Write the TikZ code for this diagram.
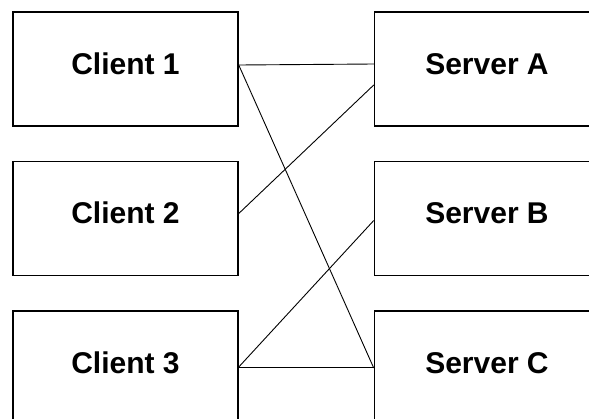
\documentclass[tikz,border=0pt]{standalone}
\usepackage{fontspec}
\setmainfont{Liberation Sans}
\usetikzlibrary{positioning}
\begin{document}
\begin{tikzpicture}[
    x=1pt, y=-1pt,
    node distance=34pt and 135pt,
    every node/.style={font=\fontsize{30}{32}\selectfont\bfseries},
    box/.style={draw, line width=1.5pt, minimum width=225pt, minimum height=114pt,
        inner sep=0pt, text height=20pt, text depth=9.5pt},
    link/.style={draw, line width=0.9pt}
]
\useasboundingbox (0,0) rectangle (589,418);
% clients on the left
\node[box] (client1) at (125.5,69) {Client 1};
\node[box, below=of client1] (client2) {Client 2};
\node[box, below=of client2] (client3) {Client 3};
% servers on the right
\node[box, right=of client1] (serverA) {Server A};
\node[box, right=of client2] (serverB) {Server B};
\node[box, right=of client3] (serverC) {Server C};
% links
\draw[link] ([yshift=4pt]client1.east) -- ([yshift=5pt]serverA.west);
\draw[link] ([yshift=4pt]client1.east) -- ([yshift=0pt]serverC.west);
\draw[link] ([yshift=5pt]client2.east) -- ([yshift=-16pt]serverA.west);
\draw[link] ([yshift=1pt]client3.east) -- ([yshift=-2pt]serverB.west);
\draw[link] ([yshift=1pt]client3.east) -- ([yshift=1pt]serverC.west);
\end{tikzpicture}
\end{document}
